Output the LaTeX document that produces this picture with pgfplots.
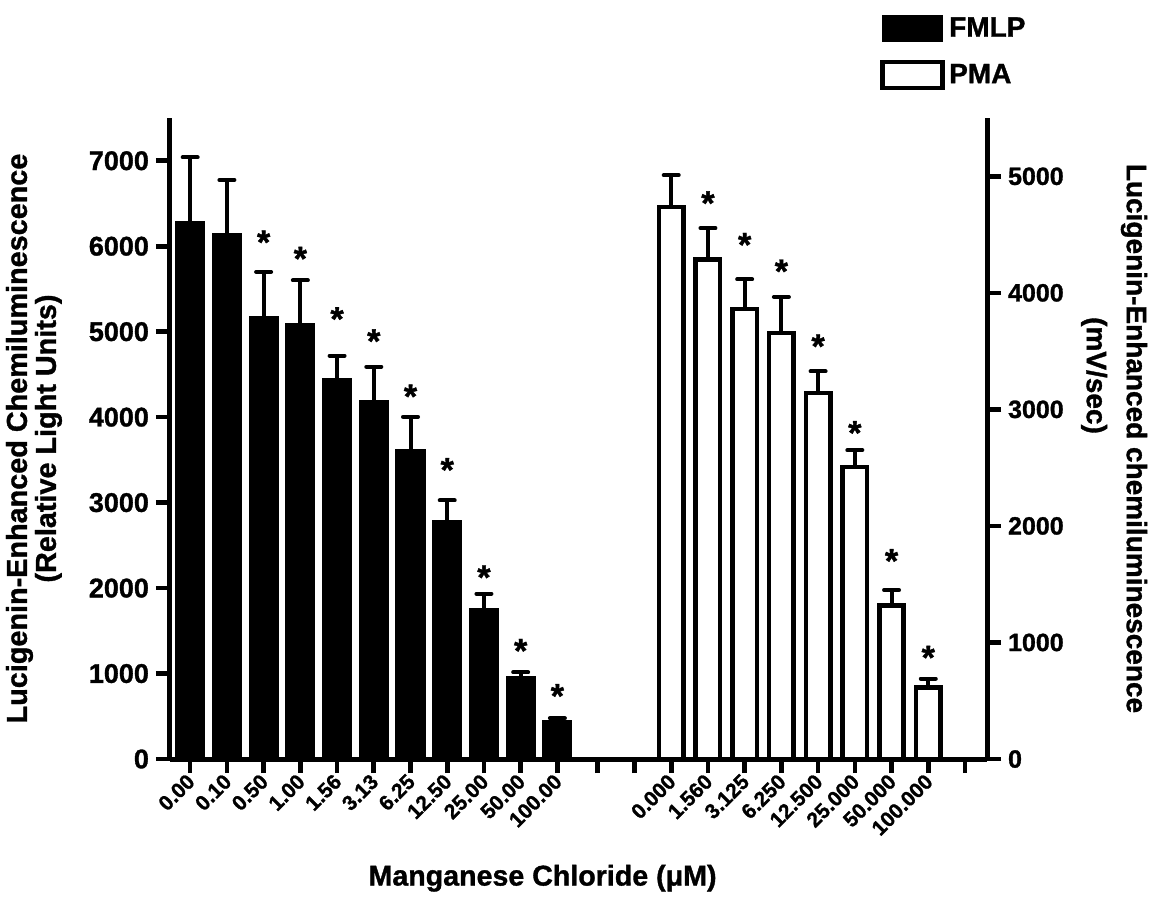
\documentclass[border=0pt]{standalone}
\usepackage{pgfplots}
\pgfplotsset{compat=1.18}
\usepackage{fontspec}
\setmainfont{Liberation Sans}[BoldFeatures={FakeBold=1.2}]

\pgfplotsset{
  chartbase/.style={
    scale only axis, width=408.5pt, height=320.5pt,
    xmin=-0.55, xmax=21.7,
    axis line style={line width=2.5pt},
    tick style={line width=2.3pt, black},
    major tick length=7pt,
    tick align=outside,
    /pgf/number format/assume math mode=true,
    /pgf/number format/1000 sep={},
    scaled y ticks=false,
    error bars/error bar style={line width=2pt},
    error bars/error mark options={rotate=90, mark size=3.75pt, line width=2pt, line cap=round},
  },
  stars/.style={draw=none, mark=none, forget plot,
    nodes near coords={*},
    every node near coord/.append style={font=\bfseries\fontsize{17}{17}\selectfont,
      anchor=base, yshift=-9.5pt, inner sep=0pt}},
}

\begin{document}
\begin{tikzpicture}
\begin{axis}[name=main, chartbase,
  ymin=0, ymax=7500, ytick={0,1000,...,7000},
  yticklabel style={font=\bfseries\fontsize{13.5}{13.5}\selectfont},
  axis x line*=bottom, axis y line*=left,
  xtick={0,1,2,3,4,5,6,7,8,9,10,11.1,12.1,13.1,14.1,15.1,16.1,17.1,18.1,19.1,20.1,21.1},
  xticklabels={0.00,0.10,0.50,1.00,1.56,3.13,6.25,12.50,25.00,50.00,100.00,{},{},
    0.000,1.560,3.125,6.250,12.500,25.000,50.000,100.000,{}},
  xticklabel style={rotate=45, anchor=east, xshift=2pt, yshift=-2pt,
    font=\bfseries\fontsize{10.5}{10.5}\selectfont},
  xlabel={Manganese Chloride (μM)},
  xlabel style={at={(axis description cs:0.456,-0.186)}, anchor=center,
    font=\bfseries\fontsize{14.3}{14.3}\selectfont},
  ylabel={Lucigenin-Enhanced Chemiluminescence\\(Relative Light Units)},
  ylabel style={at={(axis description cs:-0.1665,0.5)}, anchor=center, align=center,
    font=\bfseries\fontsize{14.4}{12}\selectfont},
]
% FMLP
\addplot[ybar, bar shift=0pt, bar width=0.785, fill=black, draw=black, line width=0.6pt,
  error bars/.cd, y dir=plus, y explicit]
  coordinates {
  (0,6290) +- (0,750)
  (1,6145) +- (0,630)
  (2,5180) +- (0,520)
  (3,5090) +- (0,510)
  (4,4450) +- (0,270)
  (5,4190) +- (0,400)
  (6,3615) +- (0,390)
  (7,2790) +- (0,235)
  (8,1760) +- (0,175)
  (9,960)  +- (0,55)
  (10,455) +- (0,20)
  };
\addplot[stars] coordinates {
  (2,6133) (3,5941) (4,5235) (5,4976) (6,4329) (7,3470) (8,2212) (9,1353) (10,824)
  };
\end{axis}

\begin{axis}[chartbase,
  ymin=0, ymax=5500, ytick={0,1000,...,5000},
  yticklabel style={font=\bfseries\fontsize{12.5}{12.5}\selectfont},
  axis x line=none, axis y line*=right, xtick=\empty,
  ylabel={Lucigenin-Enhanced chemiluminescence\\[6.5pt](mV/sec)\hspace*{63pt}},
  ylabel style={at={(axis description cs:1.1555,0.5)}, anchor=center, align=center,
    rotate=180, font=\bfseries\fontsize{14}{13.5}\selectfont},
  legend style={at={(axis description cs:0.869,1.1638)}, anchor=north west,
    draw=none, fill=none, inner sep=0pt, row sep=8pt,
    font=\bfseries\fontsize{14}{14}\selectfont},
  legend cell align=left,
  legend image code/.code={\draw[#1] (0pt,-6.5pt) rectangle (30pt,6.5pt);},
]
\addlegendimage{fill=black, draw=black, line width=0.6pt}
\addlegendimage{fill=white, draw=black, line width=2.4pt}
% PMA
\addplot[ybar, bar shift=0pt, bar width=0.665, fill=white, draw=black, line width=2.3pt,
  forget plot, error bars/.cd, y dir=plus, y explicit]
  coordinates {
  (13.1,4735) +- (0,275)
  (14.1,4285) +- (0,270)
  (15.1,3860) +- (0,255)
  (16.1,3655) +- (0,310)
  (17.1,3140) +- (0,185)
  (18.1,2505) +- (0,145)
  (19.1,1315) +- (0,135)
  (20.1,615)  +- (0,75)
  };
\addplot[stars] coordinates {
  (14.1,4833) (15.1,4476) (16.1,4248) (17.1,3605) (18.1,2862) (19.1,1763) (20.1,934)
  };
\legend{FMLP,PMA}
\end{axis}
\pgfresetboundingbox
\path ([shift={(-85pt,-71.5pt)}]main.south west) rectangle ++(577.5pt,451pt);
\end{tikzpicture}
\end{document}
